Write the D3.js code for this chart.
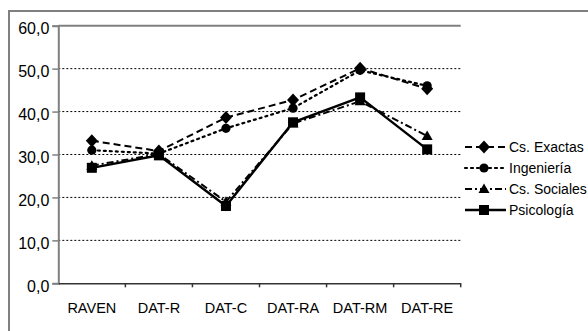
<!DOCTYPE html>
<html>
<head>
<meta charset="utf-8">
<script src="https://cdn.jsdelivr.net/npm/d3@7/dist/d3.min.js"></script>
<style>
  html, body { margin: 0; padding: 0; background: #fff; }
  svg { display: block; font-family: "Liberation Sans", Arial, sans-serif; }
</style>
</head>
<body>
<svg id="chart" width="588" height="331"></svg>
<script>
// Test categories along the x axis
const categories = ["RAVEN", "DAT-R", "DAT-C", "DAT-RA", "DAT-RM", "DAT-RE"];

// Mean scores per group
const csExactas   = [33.2, 30.8, 38.6, 42.7, 50.1, 45.3];
const ingenieria  = [31.0, 30.2, 36.1, 40.8, 49.6, 46.0];
const csSociales  = [27.4, 30.1, 19.0, 37.2, 42.4, 34.3];
const psicologia  = [26.9, 29.8, 18.0, 37.5, 43.3, 31.2];

const seriesNames = ["Cs. Exactas", "Ingeniería", "Cs. Sociales", "Psicología"];
const yTicks = [0, 10, 20, 30, 40, 50, 60];

const series = [
  { name: seriesNames[0], values: csExactas,  dash: "7,4",        width: 2,   marker: "diamond"  },
  { name: seriesNames[1], values: ingenieria, dash: "2,4",        width: 2.2, marker: "circle"   },
  { name: seriesNames[2], values: csSociales, dash: "7,3,2,3",    width: 2,   marker: "triangle" },
  { name: seriesNames[3], values: psicologia, dash: null,         width: 2.4, marker: "square"   }
];

const svg = d3.select("#chart");

// Outer chart frame (top and left edges visible)
svg.append("path")
  .attr("d", "M9,331 V11 H588")
  .attr("fill", "none")
  .attr("stroke", "#808080")
  .attr("stroke-width", 2);

const plot = { left: 58.3, top: 25.7, right: 460.7, bottom: 283.3 };

const x = d3.scaleBand().domain(categories).range([plot.left, plot.right]).paddingInner(0).paddingOuter(0);
const y = d3.scaleLinear().domain([0, 60]).range([plot.bottom, plot.top]);

// Dotted horizontal gridlines
svg.append("g")
  .selectAll("line")
  .data(yTicks.filter(v => v > 0 && v < 60))
  .join("line")
  .attr("x1", plot.left)
  .attr("x2", plot.right)
  .attr("y1", d => y(d))
  .attr("y2", d => y(d))
  .attr("stroke", "#000")
  .attr("stroke-width", 1)
  .attr("stroke-dasharray", "2,2");

// Top border of plot area
svg.append("line")
  .attr("x1", plot.left).attr("x2", plot.right)
  .attr("y1", y(60)).attr("y2", y(60))
  .attr("stroke", "#808080").attr("stroke-width", 2);

// Y axis
const yAxis = svg.append("g")
  .attr("transform", `translate(${plot.left},0)`)
  .call(d3.axisLeft(y).tickValues(yTicks).tickSize(6).tickPadding(3)
    .tickFormat(d => d3.format(".1f")(d).replace(".", ",")));
yAxis.select(".domain").attr("stroke", "#808080").attr("stroke-width", 2);
yAxis.selectAll(".tick line").attr("stroke", "#808080").attr("stroke-width", 1.5);
yAxis.selectAll(".tick text")
  .attr("font-size", 16)
  .attr("fill", "#000")
  .attr("dy", "0.5em");

// X axis
const xAxis = svg.append("g")
  .attr("transform", `translate(0,${plot.bottom})`)
  .call(d3.axisBottom(x).tickSize(0).tickPadding(19));
xAxis.select(".domain").attr("stroke", "#333").attr("stroke-width", 1.5);
xAxis.selectAll(".tick text").attr("font-size", 14.5).attr("fill", "#000");

// Tick marks at category boundaries
const bounds = categories.map(c => x(c)).concat([x(categories[categories.length - 1]) + x.bandwidth()]);
svg.append("g")
  .selectAll("line")
  .data(bounds.slice(1))
  .join("line")
  .attr("x1", d => d).attr("x2", d => d)
  .attr("y1", plot.bottom).attr("y2", plot.bottom + 4)
  .attr("stroke", "#333").attr("stroke-width", 1.5);

const cx = c => x(c) + x.bandwidth() / 2;

// Marker shapes
function drawMarker(g, type, px, py) {
  if (type === "diamond") {
    g.append("path").attr("d", `M${px},${py - 6.5} L${px + 6},${py} L${px},${py + 6.5} L${px - 6},${py} Z`).attr("fill", "#000");
  } else if (type === "circle") {
    g.append("circle").attr("cx", px).attr("cy", py).attr("r", 4.6).attr("fill", "#000");
  } else if (type === "triangle") {
    g.append("path").attr("d", `M${px},${py - 5.5} L${px + 5.5},${py + 4} L${px - 5.5},${py + 4} Z`).attr("fill", "#000");
  } else {
    g.append("rect").attr("x", px - 5).attr("y", py - 5).attr("width", 10).attr("height", 10).attr("fill", "#000");
  }
}

const line = d3.line().x((d, i) => cx(categories[i])).y(d => y(d));

// Draw series: lines first, markers after
const seriesOrder = [2, 1, 0, 3];
seriesOrder.forEach(si => {
  const s = series[si];
  svg.append("path")
    .datum(s.values)
    .attr("d", line)
    .attr("fill", "none")
    .attr("stroke", "#000")
    .attr("stroke-width", s.width)
    .attr("stroke-dasharray", s.dash)
    .attr("stroke-linecap", s.marker === "circle" ? "round" : "butt");
});
seriesOrder.forEach(si => {
  const s = series[si];
  const g = svg.append("g");
  s.values.forEach((v, i) => drawMarker(g, s.marker, cx(categories[i]), y(v)));
});

// Legend
const legend = svg.append("g");
series.forEach((s, i) => {
  const ly = 147 + i * 21;
  const g = legend.append("g");
  g.append("line")
    .attr("x1", 465).attr("x2", 506)
    .attr("y1", ly).attr("y2", ly)
    .attr("stroke", "#000")
    .attr("stroke-width", s.width)
    .attr("stroke-dasharray", s.dash)
    .attr("stroke-linecap", s.marker === "circle" ? "round" : "butt");
  drawMarker(g, s.marker, 484, ly);
  g.append("text")
    .attr("x", 509).attr("y", ly)
    .attr("dy", "0.35em")
    .attr("font-size", 14)
    .attr("fill", "#000")
    .text(s.name);
});
</script>
</body>
</html>
